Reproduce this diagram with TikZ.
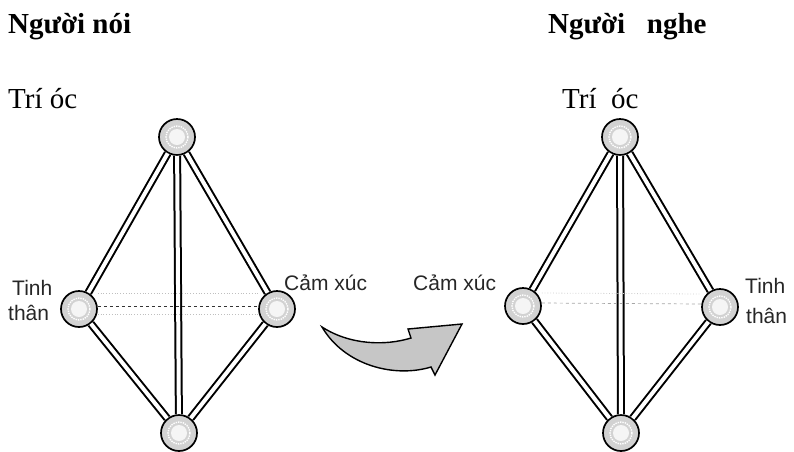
\documentclass[tikz,border=0pt]{standalone}
\usepackage{fontspec}
\setmainfont{Liberation Serif}
\newfontfamily\labelfont{Liberation Sans}
\usetikzlibrary{positioning}

\begin{document}
\begin{tikzpicture}[x=1pt, y=-1pt,
    ball/.style={circle, draw=black, line width=1.7pt, fill=gray!35, minimum size=36pt, inner sep=0pt,
        path picture={\fill[gray!8] (path picture bounding box.center) circle (8pt);
            \draw[white, densely dotted, line width=1.4pt] (path picture bounding box.center) circle (11pt);}},
    rod/.style={draw=black, line width=2pt, double=white, double distance=4pt},
    head/.style={anchor=base west, inner sep=0pt, font=\fontsize{29}{34}\selectfont\bfseries},
    txt/.style={anchor=base west, inner sep=0pt, font=\fontsize{29}{34}\selectfont},
    lbl/.style={anchor=base west, inner sep=0pt, font=\labelfont\fontsize{21}{25}\selectfont, text=black!85}]
    \useasboundingbox (0,0) rectangle (794,451);

    % Titles
    \node[head] (tSpeaker) at (8,33) {Người nói};
    \node[head] (tListener) at (548,33) {Người~~~nghe};
    \node[txt] (tMindS) at (8,108) {Trí óc};
    \node[txt] (tMindL) at (562,108) {Trí~ óc};

    % Speaker
    \node[ball] (sMind) at (177,137) {};
    \node[ball] (sSpirit) at (79,309) {};
    \node[ball] (sFeel) at (277,309) {};
    \node[ball] (sBase) at (179,433) {};
    \draw[rod] (sMind) -- (sSpirit);
    \draw[rod] (sMind) -- (sFeel);
    \draw[rod] (sMind) -- (sBase);
    \draw[rod] (sSpirit) -- (sBase);
    \draw[rod] (sFeel) -- (sBase);
    \draw[black!80, dashed, line width=0.8pt] ([yshift=3]sSpirit.east) -- ([yshift=3]sFeel.west);
    \draw[gray!50, dotted, line width=0.8pt] ([yshift=16]sSpirit.east) -- ([yshift=16]sFeel.west);
    \draw[gray!50, dotted, line width=0.8pt] ([yshift=-5]sSpirit.east) -- ([yshift=-5]sFeel.west);
    \node[lbl] (lSpiritS1) at (12,295) {Tinh};
    \node[lbl] (lSpiritS2) at (8,320) {thân};
    \node[lbl] (lFeelS) at (284,290) {Cảm xúc};

    % Listener
    \node[ball] (lMind) at (620,137) {};
    \node[ball] (lFeel) at (523,306) {};
    \node[ball] (lSpirit) at (720,307) {};
    \node[ball] (lBase) at (621,433) {};
    \draw[rod] (lMind) -- (lFeel);
    \draw[rod] (lMind) -- (lSpirit);
    \draw[rod] (lMind) -- (lBase);
    \draw[rod] (lFeel) -- (lBase);
    \draw[rod] (lSpirit) -- (lBase);
    \draw[gray!70, dashed, line width=0.7pt] ([yshift=3]lFeel.east) -- ([yshift=3]lSpirit.west);
    \draw[gray!40, dotted, line width=0.8pt] ([yshift=13]lFeel.east) -- ([yshift=13]lSpirit.west);
    \node[lbl] (lFeelL) at (413,290) {Cảm xúc};
    \node[lbl] (lSpiritL1) at (745,293) {Tinh};
    \node[lbl] (lSpiritL2) at (746,323) {thân};

    % Curved arrow
    \filldraw[fill=gray!45, draw=black, line width=1.4pt, line join=miter]
        (322,327) .. controls (350,345) and (385,346) .. (411,338) -- (408,329) -- (462,324)
        -- (435,375) -- (431,367) .. controls (395,378) and (345,366) .. cycle;
\end{tikzpicture}
\end{document}
